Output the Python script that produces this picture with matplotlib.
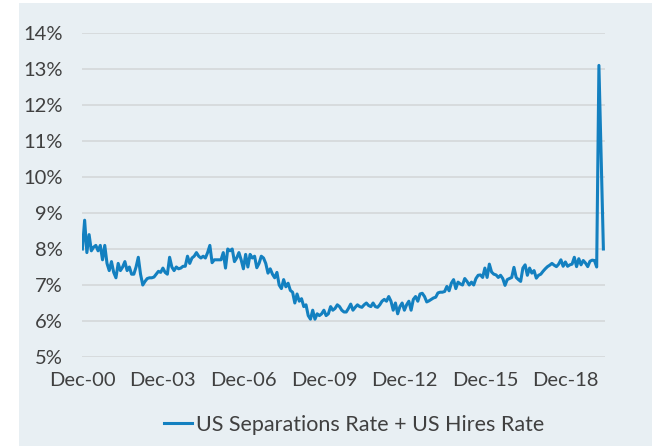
import matplotlib

matplotlib.use("Agg")
import matplotlib.pyplot as plt
from matplotlib.patches import Rectangle
import numpy as np

# monthly, Dec-2000 .. May-2020 (sum of separations and hires rates, %)
RATE_2001_2005 = [
    8.0,
    8.8, 7.9, 8.4, 7.95, 8.05, 8.1, 7.95, 8.1, 7.7, 8.1, 7.6, 7.4,
    7.65, 7.35, 7.2, 7.6, 7.4, 7.5, 7.65, 7.4, 7.5, 7.3, 7.3, 7.5,
    7.77, 7.3, 7.0, 7.1, 7.18, 7.2, 7.2, 7.22, 7.3, 7.38, 7.35, 7.47,
    7.35, 7.3, 7.77, 7.5, 7.4, 7.5, 7.45, 7.47, 7.52, 7.52, 7.8, 7.6,
    7.75, 7.8, 7.9, 7.8, 7.75, 7.8, 7.75, 7.9, 8.1, 7.62, 7.7, 7.7,
]
RATE_2006_2010 = [
    7.7, 7.7, 7.9, 7.47, 8.0, 7.95, 8.0, 7.65, 7.75, 7.9, 7.7, 7.45,
    7.85, 7.5, 7.85, 7.75, 7.8, 7.48, 7.6, 7.8, 7.75, 7.6, 7.33, 7.45,
    7.3, 7.2, 7.35, 7.0, 6.9, 7.15, 6.95, 7.05, 6.85, 6.8, 6.5, 6.75,
    6.55, 6.62, 6.4, 6.45, 6.15, 6.05, 6.3, 6.05, 6.2, 6.15, 6.2, 6.3,
    6.15, 6.2, 6.4, 6.3, 6.35, 6.45, 6.4, 6.3, 6.25, 6.25, 6.35, 6.47,
]
RATE_2011_2015 = [
    6.3, 6.38, 6.45, 6.4, 6.38, 6.45, 6.5, 6.43, 6.4, 6.5, 6.4, 6.38,
    6.45, 6.55, 6.6, 6.55, 6.68, 6.55, 6.3, 6.5, 6.2, 6.4, 6.5, 6.3,
    6.45, 6.55, 6.3, 6.6, 6.68, 6.55, 6.75, 6.77, 6.68, 6.53, 6.56, 6.6,
    6.64, 6.66, 6.78, 6.8, 6.8, 6.82, 6.96, 6.84, 7.05, 7.15, 6.9, 7.08,
    7.03, 7.0, 7.18, 7.1, 7.0, 7.08, 7.0, 7.18, 7.27, 7.28, 7.21, 7.47,
]
RATE_2016_2020 = [
    7.21, 7.58, 7.36, 7.3, 7.28, 7.21, 7.27, 7.18, 6.99, 7.15, 7.18, 7.21,
    7.49, 7.21, 7.15, 7.1, 7.47, 7.56, 7.27, 7.47, 7.33, 7.4, 7.19, 7.27,
    7.3, 7.38, 7.45, 7.51, 7.55, 7.6, 7.55, 7.51, 7.58, 7.7, 7.52, 7.64,
    7.52, 7.56, 7.58, 7.77, 7.51, 7.73, 7.56, 7.68, 7.61, 7.51, 7.66, 7.69,
    7.68, 7.5, 13.1, 10.5, 8.0,
]
RATE = RATE_2001_2005 + RATE_2006_2010 + RATE_2011_2015 + RATE_2016_2020

TICK_LABELS = ["Dec-00", "Dec-03", "Dec-06", "Dec-09", "Dec-12", "Dec-15", "Dec-18"]
Y_TICKS = [5, 6, 7, 8, 9, 10, 11, 12, 13, 14]

BG = "#e8eff3"
LINE = "#1380c0"
TEXT = "#404040"

plt.rcParams["font.family"] = ["Lato", "DejaVu Sans"]

fig = plt.figure(figsize=(6.56, 4.46), dpi=100, facecolor="white")
fig.add_artist(
    Rectangle((19 / 656, 0), 633 / 656, 443 / 446, transform=fig.transFigure,
              facecolor=BG, edgecolor="none", zorder=-10)
)

ax = fig.add_axes([82.4 / 656, 1 - 357 / 446, 523 / 656, 324 / 446])
ax.set_facecolor("none")
ax.set_zorder(5)

x = np.arange(len(RATE))
ax.plot(x, RATE, color=LINE, linewidth=2.2, label="US Separations Rate + US Hires Rate",
        solid_joinstyle="round", zorder=3)

ax.set_xlim(0, 233.9)
ax.set_ylim(5, 14)
ax.set_yticks(Y_TICKS)
ax.set_yticklabels([f"{v}%" for v in Y_TICKS])
ax.set_xticks(np.arange(0, 36 * len(TICK_LABELS), 36))
ax.set_xticklabels(TICK_LABELS)
ax.grid(axis="y", color="#d6d9db", linewidth=1.3)
ax.set_axisbelow(True)
for side in ax.spines.values():
    side.set_visible(False)
ax.tick_params(axis="both", length=0, labelsize=14.5, colors=TEXT)
ax.tick_params(axis="y", pad=14)
ax.tick_params(axis="x", pad=11)

handles, labels = ax.get_legend_handles_labels()
fig.legend(handles, labels, loc="center", bbox_to_anchor=(354 / 656, 1 - 425 / 446),
           frameon=False, fontsize=15.5, handlelength=1.3, handletextpad=0.2,
           labelcolor=TEXT)

fig.savefig("out.png", dpi=100, facecolor="white")
